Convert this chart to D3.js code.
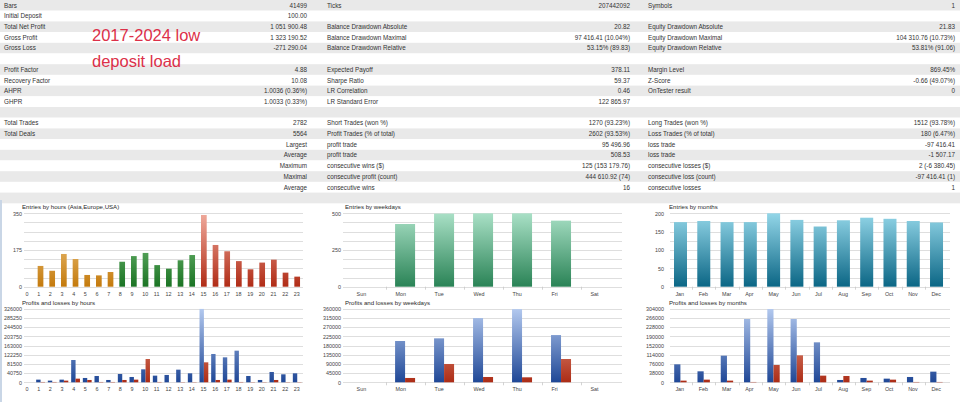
<!DOCTYPE html>
<html>
<head>
<meta charset="utf-8">
<script src="https://cdn.jsdelivr.net/npm/d3@7"></script>
<style>
body { margin: 0; background: #fff; }
svg { display: block; font-family: "Liberation Sans", Arial, sans-serif; }
</style>
</head>
<body>
<div id="chart"></div>
<script>
// Report table (one entry per row, "" = empty cell)
const col1Labels = ["Bars", "Initial Deposit", "Total Net Profit", "Gross Profit", "Gross Loss", "", "Profit Factor", "Recovery Factor", "AHPR", "GHPR", "", "Total Trades", "Total Deals", "", "", "", "", "", ""];
const col1Values = ["41499", "100.00", "1 051 900.48", "1 323 190.52", "-271 290.04", "", "4.88", "10.08", "1.0036 (0.36%)", "1.0033 (0.33%)", "", "2782", "5564", "Largest", "Average", "Maximum", "Maximal", "Average", ""];
const col2Labels = ["Ticks", "", "Balance Drawdown Absolute", "Balance Drawdown Maximal", "Balance Drawdown Relative", "", "Expected Payoff", "Sharpe Ratio", "LR Correlation", "LR Standard Error", "", "Short Trades (won %)", "Profit Trades (% of total)", "profit trade", "profit trade", "consecutive wins ($)", "consecutive profit (count)", "consecutive wins", ""];
const col2Values = ["207442092", "", "20.82", "97 416.41 (10.04%)", "53.15% (89.83)", "", "378.11", "59.37", "0.46", "122 865.97", "", "1270 (93.23%)", "2602 (93.53%)", "95 496.96", "508.53", "125 (153 179.76)", "444 610.92 (74)", "16", ""];
const col3Labels = ["Symbols", "", "Equity Drawdown Absolute", "Equity Drawdown Maximal", "Equity Drawdown Relative", "", "Margin Level", "Z-Score", "OnTester result", "", "", "Long Trades (won %)", "Loss Trades (% of total)", "loss trade", "loss trade", "consecutive losses ($)", "consecutive loss (count)", "consecutive losses", ""];
const col3Values = ["1", "", "21.83", "104 310.76 (10.73%)", "53.81% (91.06)", "", "869.45%", "-0.66 (49.07%)", "0", "", "", "1512 (93.78%)", "180 (6.47%)", "-97 416.41", "-1 507.17", "2 (-6 380.45)", "-97 416.41 (1)", "1", ""];
const noteLines = ["2017-2024 low", "deposit load"];

// Chart categories
const hours = ["0", "1", "2", "3", "4", "5", "6", "7", "8", "9", "10", "11", "12", "13", "14", "15", "16", "17", "18", "19", "20", "21", "22", "23"];
const weekdays = ["Sun", "Mon", "Tue", "Wed", "Thu", "Fri", "Sat"];
const months = ["Jan", "Feb", "Mar", "Apr", "May", "Jun", "Jul", "Aug", "Sep", "Oct", "Nov", "Dec"];

// Entries
const entriesByHour = [0, 99, 76, 156, 132, 56, 54, 70, 119, 146, 161, 103, 86, 126, 151, 342, 199, 169, 122, 83, 115, 129, 67, 48];
const entriesByWeekday = [0, 427, 498, 500, 500, 450, 0];
const entriesByMonth = [176, 179, 176, 176, 200, 182, 164, 181, 188, 185, 179, 175];

// Profits and losses
const profitByHour = [0, 11800, 7400, 11800, 98800, 19200, 28000, 10300, 36900, 23600, 57500, 29500, 32500, 56000, 39800, 325000, 125400, 110600, 140100, 28000, 10300, 45700, 35400, 39800];
const lossByHour = [0, 1500, 1500, 7400, 16200, 10300, 1500, 1500, 10300, 11800, 103200, 1500, 0, 1000, 1000, 88500, 10300, 11800, 1500, 1000, 1000, 10300, 1000, 1000];
const profitByWeekday = [0, 202000, 215000, 314000, 358000, 231000, 0];
const lossByWeekday = [0, 21200, 89600, 26000, 24400, 114000, 0];
const profitByMonth = [74300, 45400, 110000, 261400, 302600, 261400, 165100, 9600, 17900, 15100, 22000, 44000];
const lossByMonth = [6900, 11000, 6900, 1400, 71500, 111400, 27500, 26100, 6900, 11000, 1400, 1400];

// Axis labels
const hourEntryTicks = [0, 175, 350];
const weekdayEntryTicks = [0, 250, 500];
const monthEntryTicks = [0, 50, 100, 150, 200];
const hourProfitTicks = [0, 40750, 81500, 122250, 163000, 203750, 244500, 285250, 326000];
const weekdayProfitTicks = [0, 45000, 90000, 135000, 180000, 225000, 270000, 315000, 360000];
const monthProfitTicks = [0, 38000, 76000, 114000, 152000, 190000, 228000, 266000, 304000];

const width = 960, height = 402;
const rowH = 10.7;

const svg = d3.select("#chart").append("svg")
    .attr("width", width)
    .attr("height", height);

// gradients (vertical, across the plot height)
const defs = svg.append("defs");
function gradient(id, top, bottom, y1, y2) {
    const lg = defs.append("linearGradient").attr("id", id)
        .attr("gradientUnits", "userSpaceOnUse")
        .attr("x1", 0).attr("x2", 0).attr("y1", y1).attr("y2", y2);
    lg.append("stop").attr("offset", 0).attr("stop-color", top);
    lg.append("stop").attr("offset", 1).attr("stop-color", bottom);
}
const topY = [213.3, 286.7], botY = [308.7, 382.3];
gradient("asia", "#f9dba3", "#c47a0c", topY[0], topY[1]);
gradient("europe", "#8fd08f", "#1b7424", topY[0], topY[1]);
gradient("usa", "#f0aa9c", "#b02c16", topY[0], topY[1]);
gradient("wday", "#a9e0c6", "#2a8356", topY[0], topY[1]);
gradient("month", "#93d6e8", "#0b6685", topY[0], topY[1]);
gradient("profit", "#b3c9ef", "#1f4796", botY[0], botY[1]);
gradient("loss", "#f5b39c", "#ac2c16", botY[0], botY[1]);

// ---- table ----
const table = svg.append("g").attr("font-size", 6.3).attr("fill", "#333");
table.selectAll("rect.row").data(d3.range(19)).join("rect")
    .attr("class", "row")
    .attr("x", 0).attr("width", width)
    .attr("y", i => i * rowH).attr("height", rowH)
    .attr("fill", i => i % 2 === 0 ? "#e9e9e9" : "#ffffff");

const columns = [
    { labels: col1Labels, values: col1Values, lx: 4, vx: 307 },
    { labels: col2Labels, values: col2Values, lx: 327, vx: 630 },
    { labels: col3Labels, values: col3Values, lx: 648, vx: 955 }
];
columns.forEach(c => {
    table.append("g").selectAll("text").data(c.labels).join("text")
        .attr("x", c.lx).attr("y", (d, i) => i * rowH + 7.6)
        .text(d => d);
    table.append("g").selectAll("text").data(c.values).join("text")
        .attr("x", c.vx).attr("y", (d, i) => i * rowH + 7.6)
        .attr("text-anchor", "end")
        .text(d => d);
});

svg.append("g").selectAll("text").data(noteLines).join("text")
    .attr("x", 92).attr("y", (d, i) => 40.5 + i * 26.5)
    .attr("font-size", 16.5)
    .attr("fill", "#dc3049")
    .text(d => d);

// window edge strip on the left
svg.append("rect").attr("x", 0).attr("y", 200).attr("width", 2).attr("height", height - 200)
    .attr("fill", "#c9d6e6");

// ---- charts ----
function drawChart(cfg) {
    const g = svg.append("g");
    const x = d3.scaleBand().domain(cfg.cats).range(cfg.xr);
    const y = d3.scaleLinear().domain([0, cfg.max]).range([cfg.yr[1], cfg.yr[0]]);

    // grid lines, 8 intervals
    g.append("g").selectAll("line").data(d3.range(9).map(i => cfg.max * i / 8)).join("line")
        .attr("x1", cfg.gx[0]).attr("x2", cfg.gx[1])
        .attr("y1", d => Math.round(y(d)) + 0.5).attr("y2", d => Math.round(y(d)) + 0.5)
        .attr("stroke", "#d6d6d6").attr("stroke-width", 0.8);

    // y labels
    g.append("g")
        .attr("transform", `translate(${cfg.labelRight},0)`)
        .call(d3.axisLeft(y).tickValues(cfg.ticks).tickSize(0).tickPadding(0).tickFormat(d3.format("d")))
        .call(a => a.select(".domain").remove())
        .attr("font-family", null).attr("font-size", 5.4)
        .selectAll("text").attr("fill", "#444").attr("dy", "0.35em");

    // category separators
    if (cfg.sep) {
        g.append("g").selectAll("line").data(cfg.cats.slice(1)).join("line")
            .attr("x1", d => Math.round(x(d)) + 0.5).attr("x2", d => Math.round(x(d)) + 0.5)
            .attr("y1", cfg.yr[1]).attr("y2", cfg.yr[1] + 3)
            .attr("stroke", "#c8c8c8").attr("stroke-width", 0.8);
    }

    // x labels
    g.append("g")
        .attr("transform", `translate(0,${cfg.yr[1]})`)
        .call(d3.axisBottom(x).tickSize(0).tickPadding(5))
        .call(a => a.select(".domain").remove())
        .attr("font-family", null).attr("font-size", 5.4)
        .selectAll("text")
        .attr("fill", "#444")
        .attr("text-anchor", "start")
        .attr("x", -x.bandwidth() / 2 + cfg.labelOff);

    // bars
    cfg.series.forEach((s, k) => {
        g.append("g").selectAll("rect").data(s.values).join("rect")
            .attr("x", (d, i) => x(cfg.cats[i]) + cfg.barOff + k * cfg.barW)
            .attr("width", cfg.barW)
            .attr("y", d => y(d))
            .attr("height", d => y(0) - y(d))
            .attr("fill", (d, i) => `url(#${typeof s.fill === "function" ? s.fill(i) : s.fill})`);
    });

    // title
    g.append("text")
        .attr("x", cfg.titleX).attr("y", cfg.yr[0] - 4.2)
        .attr("font-size", 6.1).attr("fill", "#2a2a2a")
        .text(cfg.title);
}

const session = i => i < 8 ? "asia" : i < 15 ? "europe" : "usa";

const colA = { xr: [23, 303], gx: [24, 303], labelRight: 22, titleX: 22 };
const colB = { xr: [346.6, 619.5], gx: [343, 622], labelRight: 341, titleX: 345 };
const colC = { xr: [668.9, 948.2], gx: [670, 950], labelRight: 664, titleX: 669 };

drawChart({ ...colA, cats: hours, yr: topY, max: 350, ticks: hourEntryTicks,
    title: "Entries by hours (Asia,Europe,USA)", barOff: 3, barW: 5.7, labelOff: 2.5,
    series: [{ values: entriesByHour, fill: session }] });
drawChart({ ...colB, cats: weekdays, yr: topY, max: 500, ticks: weekdayEntryTicks, sep: true,
    title: "Entries by weekdays", barOff: 9.5, barW: 20, labelOff: 10,
    series: [{ values: entriesByWeekday, fill: "wday" }] });
drawChart({ ...colC, cats: months, yr: topY, max: 200, ticks: monthEntryTicks, sep: true,
    title: "Entries by months", barOff: 5.1, barW: 13, labelOff: 6.5,
    series: [{ values: entriesByMonth, fill: "month" }] });

drawChart({ ...colA, cats: hours, yr: botY, max: 326000, ticks: hourProfitTicks,
    title: "Profits and losses by hours", barOff: 1.5, barW: 4.4, labelOff: 2.5,
    series: [{ values: profitByHour, fill: "profit" }, { values: lossByHour, fill: "loss" }] });
drawChart({ ...colB, cats: weekdays, yr: botY, max: 360000, ticks: weekdayProfitTicks, sep: true,
    title: "Profits and losses by weekdays", barOff: 9.5, barW: 10, labelOff: 10,
    series: [{ values: profitByWeekday, fill: "profit" }, { values: lossByWeekday, fill: "loss" }] });
drawChart({ ...colC, cats: months, yr: botY, max: 304000, ticks: monthProfitTicks, sep: true,
    title: "Profits and losses by months", barOff: 5.3, barW: 6.2, labelOff: 6.5,
    series: [{ values: profitByMonth, fill: "profit" }, { values: lossByMonth, fill: "loss" }] });
</script>
</body>
</html>
